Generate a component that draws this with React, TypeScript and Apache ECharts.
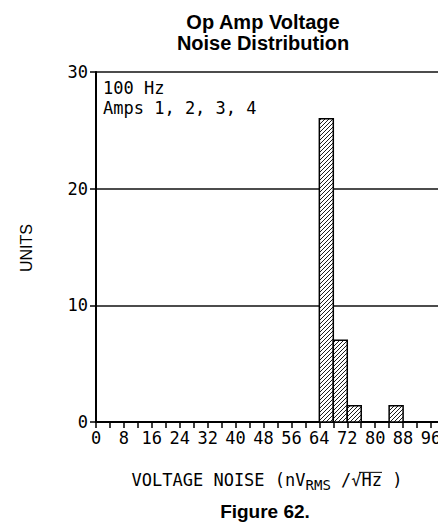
import React, { useEffect, useRef } from "react";
import * as echarts from "echarts";

// ---- data ----
const binStarts = [64, 68, 72, 84];
const binWidth = 4;
const unitCounts = [26, 7, 1.4, 1.4];
const xTickValues = [0, 4, 8, 12, 16, 20, 24, 28, 32, 36, 40, 44, 48, 52, 56, 60, 64, 68, 72, 76, 80, 84, 88, 92, 96];
const xLabelValues = [0, 8, 16, 24, 32, 40, 48, 56, 64, 72, 80, 88, 96];
const yLabelValues = [0, 10, 20, 30];
const titleLines = ["Op Amp Voltage", "Noise Distribution"];
const noteLines = ["100 Hz", "Amps 1, 2, 3, 4"];
const yTitle = "UNITS";
const caption = "Figure 62.";

const MONO = "'DejaVu Sans Mono', 'Liberation Mono', monospace";
const SANS = "'Liberation Sans', Arial, sans-serif";

function measure(text: string, font: string): number {
  const c = document.createElement("canvas");
  const ctx = c.getContext("2d")!;
  ctx.font = font;
  return ctx.measureText(text).width;
}

export default function App() {
  const ref = useRef<HTMLDivElement>(null);
  useEffect(() => {
    const chart = echarts.init(ref.current!, null, { renderer: "svg" });

    const W = 438;
    const gridLeft = 96;
    const gridTop = 72;
    const gridBottom = 109;

    // x-axis title pieces
    const mainSize = 17;
    const subSize = 14;
    const mainFont = `${mainSize}px ${MONO}`;
    const subFont = `${subSize}px ${MONO}`;
    const p1 = "VOLTAGE NOISE (nV";
    const p2 = "RMS";
    const p3 = " /";
    const p4 = "\u221A";
    const p5 = "Hz";
    const p6 = " )";
    const w1 = measure(p1, mainFont);
    const w2 = measure(p2, subFont);
    const w3 = measure(p3, mainFont);
    const w4 = measure(p4, mainFont);
    const w5 = measure(p5, mainFont);
    const w6 = measure(p6, mainFont);
    const total = w1 + w2 + w3 + w4 + w5 + w6;
    const xTitleCenter = (gridLeft + W) / 2;
    const xTitleY = 480;
    let cx = xTitleCenter - total / 2;
    const xs: number[] = [];
    [w1, w2, w3, w4, w5, w6].forEach((w) => {
      xs.push(cx);
      cx += w;
    });

    const txt = (x: number, y: number, text: string, font: any, extra: any = {}) => ({
      type: "text",
      x,
      y,
      silent: true,
      style: {
        text,
        fill: "#000",
        ...font,
        ...extra,
      },
    });

    const data = binStarts.map((s, i) => [s, s + binWidth, unitCounts[i]]);

    chart.setOption({
      animation: false,
      backgroundColor: "#fff",
      grid: {
        left: gridLeft,
        top: gridTop,
        right: 0,
        bottom: gridBottom,
        containLabel: false,
        outerBoundsMode: "none",
      },
      xAxis: {
        type: "value",
        min: 0,
        max: 98,
        axisLine: { show: true, onZero: false, lineStyle: { color: "#000", width: 2 } },
        axisTick: {
          show: true,
          length: 6,
          customValues: xTickValues,
          lineStyle: { color: "#000", width: 1.5 },
        },
        axisLabel: {
          show: true,
          margin: 7,
          color: "#000",
          fontFamily: MONO,
          fontSize: 17,
          customValues: xLabelValues,
          showMinLabel: true,
          showMaxLabel: true,
          formatter: (v: number) => String(v),
        },
        splitLine: { show: false },
      },
      yAxis: {
        type: "value",
        min: 0,
        max: 30,
        interval: 10,
        axisLine: { show: true, lineStyle: { color: "#000", width: 2 } },
        axisTick: { show: true, length: 6, lineStyle: { color: "#000", width: 1.5 } },
        axisLabel: {
          show: true,
          margin: 8,
          color: "#000",
          fontFamily: MONO,
          fontSize: 17,
          formatter: (v: number) => (yLabelValues.indexOf(v) >= 0 ? String(v) : ""),
        },
        splitLine: { show: true, lineStyle: { color: "#111", width: 1.5 } },
      },
      series: [
        {
          type: "custom",
          data,
          encode: { x: [0, 1], y: 2 },
          clip: true,
          renderItem: (params: any, api: any) => {
            const a = api.coord([api.value(0), api.value(2)]);
            const b = api.coord([api.value(1), 0]);
            const left = a[0];
            const top = a[1];
            const right = b[0];
            const bottom = b[1];
            const children: any[] = [
              {
                type: "rect",
                shape: { x: left, y: top, width: right - left, height: bottom - top },
                style: { fill: "#fff" },
              },
            ];
            const step = 4;
            const cStart = Math.ceil((left + top) / step) * step;
            for (let c = cStart; c <= right + bottom; c += step) {
              const xa = Math.max(left, c - bottom);
              const xb = Math.min(right, c - top);
              if (xb - xa < 0.3) continue;
              children.push({
                type: "line",
                shape: { x1: xa, y1: c - xa, x2: xb, y2: c - xb },
                style: { stroke: "#000", lineWidth: 0.9 },
              });
            }
            children.push({
              type: "rect",
              shape: { x: left, y: top, width: right - left, height: bottom - top },
              style: { fill: "none", stroke: "#000", lineWidth: 1.5 },
            });
            return { type: "group", children };
          },
        },
      ],
      graphic: [
        txt(263, 32, titleLines.join("\n"), { font: `bold 20px ${SANS}` }, {
          align: "center",
          verticalAlign: "middle",
          lineHeight: 21,
        }),
        txt(103, 88, noteLines[0], { font: mainFont }, { verticalAlign: "middle" }),
        txt(103, 108, noteLines[1], { font: mainFont }, { verticalAlign: "middle" }),
        {
          type: "text",
          x: 26,
          y: 248,
          rotation: Math.PI / 2,
          silent: true,
          style: {
            text: yTitle,
            font: `16px ${SANS}`,
            fill: "#000",
            align: "center",
            verticalAlign: "middle",
          },
        },
        txt(xs[0], xTitleY, p1, { font: mainFont }, { verticalAlign: "middle" }),
        txt(xs[1], xTitleY + 5, p2, { font: subFont }, { verticalAlign: "middle" }),
        txt(xs[2], xTitleY, p3, { font: mainFont }, { verticalAlign: "middle" }),
        txt(xs[3], xTitleY, p4, { font: mainFont }, { verticalAlign: "middle" }),
        txt(xs[4], xTitleY, p5, { font: mainFont }, { verticalAlign: "middle" }),
        txt(xs[5], xTitleY, p6, { font: mainFont }, { verticalAlign: "middle" }),
        {
          type: "line",
          silent: true,
          shape: {
            x1: xs[3] + w4 * 0.75,
            y1: xTitleY - mainSize * 0.45,
            x2: xs[4] + w5,
            y2: xTitleY - mainSize * 0.45,
          },
          style: { stroke: "#000", lineWidth: 1 },
        },
        txt(265, 511, caption, { font: `bold 19px ${SANS}` }, { align: "center", verticalAlign: "middle" }),
      ],
    });
    return () => chart.dispose();
  }, []);
  return (
    <div
      ref={ref}
      style={{ position: "fixed", left: 0, top: 0, width: 438, height: 531 }}
    />
  );
}
